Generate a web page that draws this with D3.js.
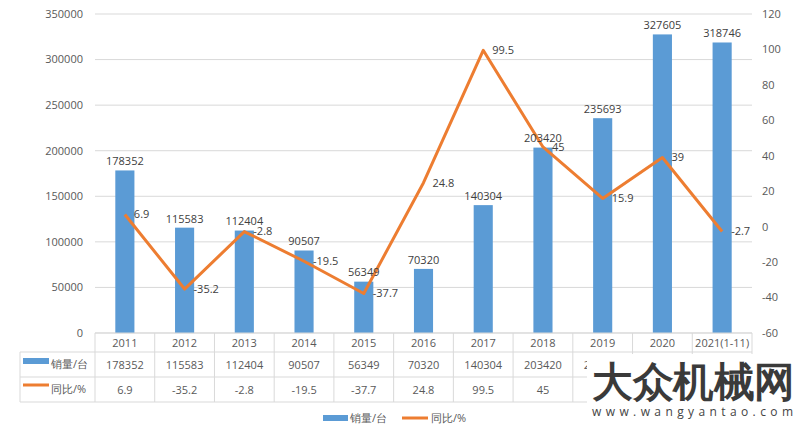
<!DOCTYPE html>
<html><head><meta charset="utf-8">
<script src="https://cdn.jsdelivr.net/npm/d3@7"></script>
<style>
body{margin:0;background:#fff;}
text{font-family:"Open Sans","Noto Sans",sans-serif;}
</style></head>
<body><svg id="c" width="800" height="431"></svg>
<script>
const categories = ["2011","2012","2013","2014","2015","2016","2017","2018","2019","2020","2021(1-11)"];
const sales = [178352,115583,112404,90507,56349,70320,140304,203420,235693,327605,318746];
const yoy = [6.9,-35.2,-2.8,-19.5,-37.7,24.8,99.5,45,15.9,39,-2.7];
const leftTicks = [0,50000,100000,150000,200000,250000,300000,350000];
const rightTicks = [-60,-40,-20,0,20,40,60,80,100,120];
const seriesNames = ["销量/台","同比/%"];

const blue="#5B9BD5", orange="#ED7D31", grid="#d9d9d9", txt="#595959";
const svg=d3.select("#c");
const L=95,R=752,T=14,B=333;
const x=d3.scaleBand().domain(categories).range([L,R]).padding(0);
const yL=d3.scaleLinear().domain([0,350000]).range([B,T]);
const yR=d3.scaleLinear().domain([-60,120]).range([B,T]);

// gridlines
svg.append("g").selectAll("line").data(leftTicks).join("line")
 .attr("x1",L).attr("x2",R).attr("y1",d=>yL(d)).attr("y2",d=>yL(d))
 .attr("stroke",grid).attr("stroke-width",1);

// left axis labels
const fs="11px";
svg.append("g").selectAll("text").data(leftTicks).join("text")
 .attr("x",83).attr("y",d=>yL(d)).attr("dy","0.35em").attr("text-anchor","end")
 .attr("font-size",fs).attr("fill",txt).text(d=>d);
svg.append("g").selectAll("text").data(rightTicks).join("text")
 .attr("x",762).attr("y",d=>yR(d)).attr("dy","0.35em").attr("text-anchor","start")
 .attr("font-size",fs).attr("fill",txt).text(d=>d);

// bars
const bw=x.bandwidth()*0.32;
const cx=c=>x(c)+x.bandwidth()/2;
svg.append("g").selectAll("rect").data(categories).join("rect")
 .attr("x",(c)=>cx(c)-bw/2).attr("width",bw)
 .attr("y",(c,i)=>yL(sales[i])).attr("height",(c,i)=>B-yL(sales[i]))
 .attr("fill",blue);

// line
const line=d3.line().x(d=>cx(d.c)).y(d=>yR(d.v));
const pts=categories.map((c,i)=>({c,v:yoy[i]}));
svg.append("path").datum(pts).attr("d",line).attr("fill","none")
 .attr("stroke",orange).attr("stroke-width",3).attr("stroke-linejoin","round");

// bar labels
svg.append("g").selectAll("text").data(categories).join("text")
 .attr("x",c=>cx(c)).attr("y",(c,i)=>yL(sales[i])-9).attr("dy","0.35em")
 .attr("text-anchor","middle").attr("font-size",fs).attr("fill","#404040").text((c,i)=>sales[i]);
// line labels
svg.append("g").selectAll("text").data(pts).join("text")
 .attr("x",d=>cx(d.c)+9).attr("y",d=>yR(d.v)).attr("dy","0.35em")
 .attr("font-size",fs).attr("fill","#404040").text(d=>d.v);

// data table
const rows=[352,377,402];
const tg=svg.append("g");
tg.append("line").attr("x1",L).attr("x2",R).attr("y1",B).attr("y2",B).attr("stroke",grid);
rows.forEach(r=>tg.append("line").attr("x1",20).attr("x2",R).attr("y1",r).attr("y2",r).attr("stroke",grid));
tg.append("line").attr("x1",20).attr("x2",20).attr("y1",352).attr("y2",402).attr("stroke",grid);
const bounds=categories.map(c=>x(c)).concat([R]);
tg.selectAll(".v").data(bounds).join("line").attr("class","v")
 .attr("x1",d=>d).attr("x2",d=>d).attr("y1",B).attr("y2",402).attr("stroke",grid);
tg.selectAll(".cat").data(categories).join("text").attr("class","cat")
 .attr("x",c=>cx(c)).attr("y",343).attr("dy","0.35em").attr("text-anchor","middle")
 .attr("font-size",fs).attr("fill",txt).text(c=>c);
tg.selectAll(".r1").data(categories).join("text").attr("class","r1")
 .attr("x",c=>cx(c)).attr("y",365).attr("dy","0.35em").attr("text-anchor","middle")
 .attr("font-size",fs).attr("fill",txt).text((c,i)=>sales[i]);
tg.selectAll(".r2").data(categories).join("text").attr("class","r2")
 .attr("x",c=>cx(c)).attr("y",390).attr("dy","0.35em").attr("text-anchor","middle")
 .attr("font-size",fs).attr("fill",txt).text((c,i)=>yoy[i]);
// row legend keys
tg.append("rect").attr("x",23).attr("y",358).attr("width",26).attr("height",6).attr("fill",blue);
tg.append("text").attr("x",51).attr("y",364).attr("dy","0.35em").attr("font-size",fs).attr("fill",txt).text(seriesNames[0]);
tg.append("line").attr("x1",23).attr("x2",49).attr("y1",385).attr("y2",385).attr("stroke",orange).attr("stroke-width",3);
tg.append("text").attr("x",51).attr("y",389).attr("dy","0.35em").attr("font-size",fs).attr("fill",txt).text(seriesNames[1]);

// bottom legend
const lg=svg.append("g");
lg.append("rect").attr("x",323).attr("y",415).attr("width",25).attr("height",6).attr("fill",blue);
lg.append("text").attr("x",350).attr("y",418).attr("dy","0.35em").attr("font-size",fs).attr("fill",txt).text(seriesNames[0]);
lg.append("line").attr("x1",402).attr("x2",428).attr("y1",418).attr("y2",418).attr("stroke",orange).attr("stroke-width",3);
lg.append("text").attr("x",431).attr("y",418).attr("dy","0.35em").attr("font-size",fs).attr("fill",txt).text(seriesNames[1]);

// watermark
svg.append("rect").attr("x",587).attr("y",354).attr("width",213).attr("height",77).attr("fill","#fff");
svg.append("text").attr("x",592).attr("y",396).attr("font-family","Noto Sans CJK SC")
 .attr("font-weight",900).attr("font-size","41px").attr("fill","#3a3a3a").attr("textLength",203)
 .attr("lengthAdjust","spacingAndGlyphs").text("大众机械网");
svg.append("text").attr("x",592).attr("y",416).attr("font-family","DejaVu Sans")
 .attr("font-size","12px").attr("fill","#444").attr("textLength",201)
 .attr("lengthAdjust","spacing").text("www.wangyantao.com");
</script></body></html>
